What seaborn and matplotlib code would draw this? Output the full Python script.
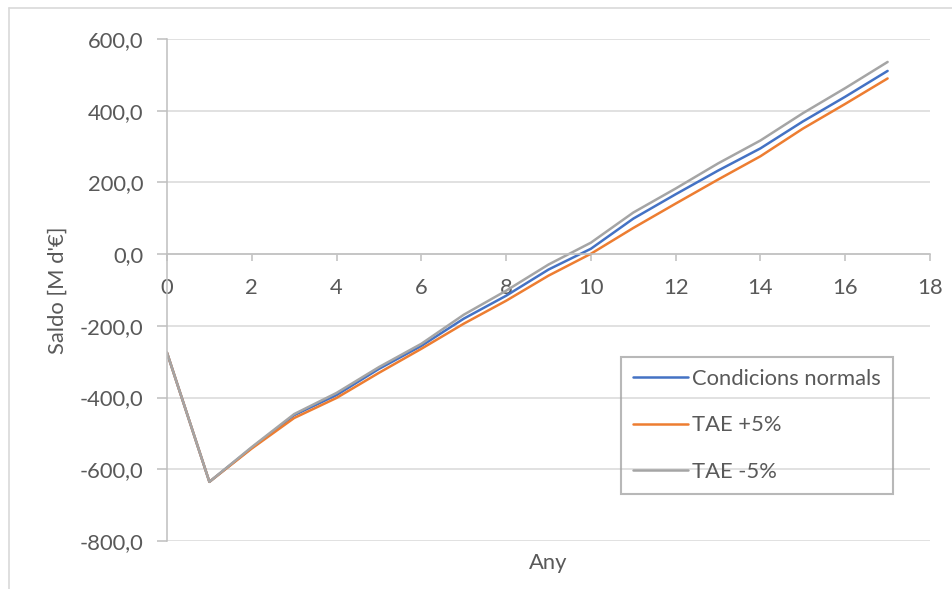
import matplotlib
matplotlib.use("Agg")
import matplotlib.pyplot as plt
import seaborn as sns
import pandas as pd
from matplotlib.ticker import FuncFormatter, MultipleLocator
from matplotlib.lines import Line2D

anys = list(range(0, 18))
condicions_normals = [-275, -635, -540, -449, -393, -320, -256, -180, -116, -43, 15, 99, 167, 233, 295, 370, 439, 511]
tae_mes5 = [-275, -635, -542, -457, -401, -331, -264, -194, -130, -60, 1, 73, 141, 208, 273, 350, 419, 490]
tae_menys5 = [-275, -635, -538, -446, -387, -315, -250, -169, -102, -29, 32, 116, 183, 253, 317, 393, 463, 536]

series_names = ["Condicions normals", "TAE +5%", "TAE -5%"]
colors = ["#4472C4", "#ED7D31", "#A5A5A5"]

df = pd.concat([
    pd.DataFrame({"Any": anys, "Saldo": condicions_normals, "Serie": series_names[0]}),
    pd.DataFrame({"Any": anys, "Saldo": tae_mes5, "Serie": series_names[1]}),
    pd.DataFrame({"Any": anys, "Saldo": tae_menys5, "Serie": series_names[2]}),
])

sns.set_theme(style="white")
plt.rcParams["font.family"] = ["Lato", "DejaVu Sans"]
txt = "#595959"
fs = 15.8

W, H = 953, 589
fig = plt.figure(figsize=(W / 100, H / 100), dpi=100)
ax = fig.add_axes([167 / W, 1 - 541 / H, (930 - 167) / W, (541 - 39) / H])

sns.lineplot(data=df, x="Any", y="Saldo", hue="Serie", hue_order=series_names,
             palette=colors, linewidth=1.8, ax=ax, legend=True)

ax.set_xlim(0, 18)
ax.set_ylim(-800, 600)
ax.xaxis.set_major_locator(MultipleLocator(2))
ax.yaxis.set_major_locator(MultipleLocator(200))
ax.yaxis.set_major_formatter(FuncFormatter(lambda v, p: f"{v:.1f}".replace(".", ",")))
ax.xaxis.set_major_formatter(FuncFormatter(lambda v, p: f"{int(round(v))}"))

ax.grid(axis="y", color="#d9d9d9", linewidth=1.1)
ax.grid(axis="x", visible=False)
ax.set_axisbelow(True)

for s in ["top", "right"]:
    ax.spines[s].set_visible(False)
ax.spines["left"].set_color("#bfbfbf")
ax.spines["left"].set_linewidth(1.1)
ax.spines["bottom"].set_position(("data", 0))
ax.spines["bottom"].set_color("#bfbfbf")
ax.spines["bottom"].set_linewidth(1.1)

ax.tick_params(axis="x", direction="out", length=5, width=1.1, color="#bfbfbf",
               pad=12, labelsize=fs, labelcolor=txt, bottom=True)
ax.tick_params(axis="y", direction="out", length=7, width=1.1, color="#bfbfbf",
               pad=10, labelsize=fs, labelcolor=txt, left=True)

ax.set_xlabel("Any", fontsize=fs, color=txt)
ax.xaxis.set_label_coords(0.5, (541 - 553) / 502)
ax.set_ylabel("Saldo [M d'€]", fontsize=fs, color=txt, va="center")
ax.yaxis.set_label_coords((58 - 167) / 763, 0.5)

handles, labels = ax.get_legend_handles_labels()
leg = ax.legend(handles, labels, loc="upper left",
                bbox_to_anchor=(621 / W, 1 - 357 / H), bbox_transform=fig.transFigure,
                borderaxespad=0, frameon=True, fancybox=False, fontsize=fs,
                handlelength=2.5, handletextpad=0.2, labelspacing=1.2,
                borderpad=0.55)
leg.get_frame().set_edgecolor("#a6a6a6")
leg.get_frame().set_linewidth(1.5)
leg.get_frame().set_facecolor("none")
for t in leg.get_texts():
    t.set_color(txt)
for l in leg.get_lines():
    l.set_linewidth(1.8)

# outer chart-area border
fig.add_artist(Line2D([9 / W, 1], [1 - 8 / H, 1 - 8 / H], transform=fig.transFigure,
                      color="#d9d9d9", linewidth=1.2))
fig.add_artist(Line2D([9 / W, 9 / W], [0, 1 - 8 / H], transform=fig.transFigure,
                      color="#d9d9d9", linewidth=1.2))

fig.savefig("out.png", dpi=100)
